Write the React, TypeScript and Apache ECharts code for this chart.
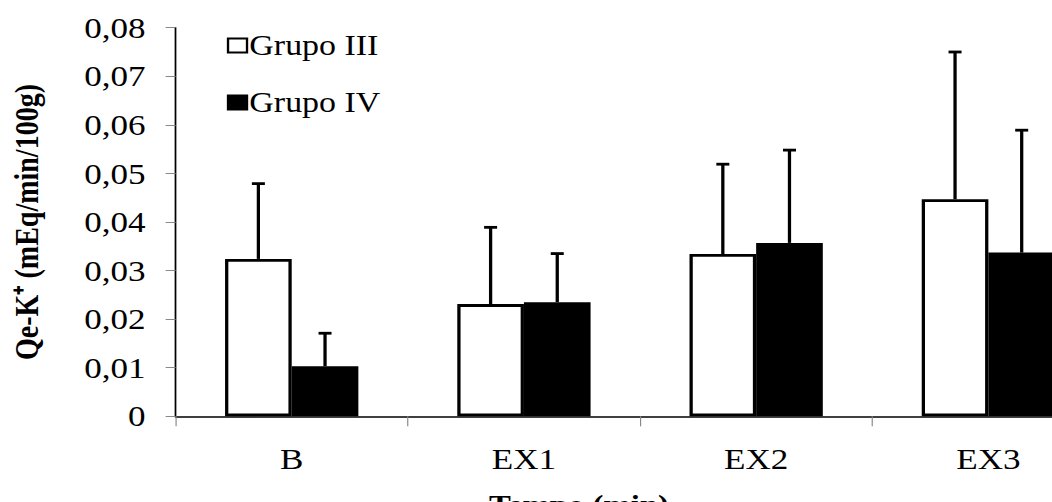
import React, { useEffect, useRef } from "react";
import * as echarts from "echarts";

const categories = ["B", "EX1", "EX2", "EX3"];
const grupoIII = [0.0324, 0.0231, 0.0334, 0.0447];
const grupoIV = [0.0103, 0.0235, 0.0357, 0.0337];
const grupoIIISD = [0.0155, 0.0158, 0.0185, 0.0303];
const grupoIVSD = [0.0068, 0.01, 0.0191, 0.0252];
const yTicks = { min: 0, max: 0.08, interval: 0.01 };

const FONT = "Liberation Serif";
const BAR_FRAC = 0.287;
// the reference image is stretched horizontally; reproduce it with a CSS scaleX
const SX = 1.17;
const px = (v: number) => v / SX;

function errorSeries(name: string, means: number[], sds: number[], side: number) {
  return {
    type: "custom",
    name: name + " SD",
    z: 5,
    silent: true,
    data: means.map((m, i) => [i, m, m + sds[i]]),
    renderItem: (params: any, api: any) => {
      const cat = api.value(0);
      const base = api.coord([cat, api.value(1)]);
      const top = api.coord([cat, api.value(2)]);
      const cw = api.size([1, 0])[0];
      const x = base[0] + (side * cw * BAR_FRAC) / 2;
      const style = { stroke: "#000", lineWidth: 2.8 };
      const hw = px(6.5);
      return {
        type: "group",
        children: [
          { type: "line", shape: { x1: x, y1: base[1], x2: x, y2: top[1] }, style },
          { type: "line", shape: { x1: x - hw, y1: top[1], x2: x + hw, y2: top[1] }, style },
        ],
      };
    },
  };
}

export default function App() {
  const ref = useRef<HTMLDivElement>(null);
  useEffect(() => {
    if (!ref.current) return;
    const chart = echarts.init(ref.current, null, { renderer: "svg" });
    chart.setOption({
      animation: false,
      backgroundColor: "#fff",
      textStyle: { fontFamily: FONT },
      grid: { left: px(175.6), right: 0, top: 27.7, bottom: 85.7, containLabel: false },
      legend: {
        orient: "vertical",
        left: px(221),
        top: 26,
        icon: "rect",
        itemWidth: px(19),
        itemHeight: 14,
        itemGap: 28,
        data: ["Grupo III", "Grupo IV"],
        textStyle: { fontFamily: FONT, fontSize: 29, color: "#000", padding: [0, 0, 0, -3] },
        itemStyle: { borderWidth: 2 },
      },
      xAxis: {
        type: "category",
        data: categories,
        axisLine: { lineStyle: { color: "#000", width: 1.5 } },
        axisTick: { show: true, length: 10, lineStyle: { color: "#888", width: 1 } },
        axisLabel: { color: "#000", fontFamily: FONT, fontSize: 30, margin: 28 },
        splitLine: { show: false },
      },
      yAxis: {
        type: "value",
        min: yTicks.min,
        max: yTicks.max,
        interval: yTicks.interval,
        name: "Qe-K⁺ (mEq/min/100g)",
        nameLocation: "middle",
        nameRotate: 90,
        nameGap: px(132),
        nameTextStyle: { fontFamily: FONT, fontSize: 28, fontWeight: "bold", color: "#000" },
        axisLine: { show: true, lineStyle: { color: "#000", width: 1.5 } },
        axisTick: { show: true, length: px(10), lineStyle: { color: "#888", width: 1 } },
        axisLabel: {
          color: "#000",
          fontFamily: FONT,
          fontSize: 30,
          margin: px(30),
          formatter: (v: number) => (v === 0 ? "0" : v.toFixed(2).replace(".", ",")),
        },
        splitLine: { show: false },
      },
      graphic: [
        {
          type: "text",
          left: px(489),
          top: 491,
          style: { text: "Tempo (min)", fontFamily: FONT, fontSize: 28, fontWeight: "bold", fill: "#000" },
        },
      ],
      series: [
        {
          type: "bar",
          name: "Grupo III",
          data: grupoIII,
          barWidth: BAR_FRAC * 100 + "%",
          barGap: "0%",
          itemStyle: { color: "#fff", borderColor: "#000", borderWidth: 2.8 },
        },
        {
          type: "bar",
          name: "Grupo IV",
          data: grupoIV,
          barWidth: BAR_FRAC * 100 + "%",
          barGap: "0%",
          itemStyle: { color: "#000", borderColor: "#000", borderWidth: 2.8 },
        },
        errorSeries("Grupo III", grupoIII, grupoIIISD, -1),
        errorSeries("Grupo IV", grupoIV, grupoIVSD, 1),
      ],
    });
    return () => chart.dispose();
  }, []);
  return (
    <div style={{ position: "absolute", left: 0, top: 0, width: 1052, height: 502, overflow: "hidden", background: "#fff" }}>
      <div
        ref={ref}
        style={{
          position: "absolute",
          left: 0,
          top: 0,
          width: px(1105),
          height: 502,
          transform: `scaleX(${SX})`,
          transformOrigin: "0 0",
        }}
      />
    </div>
  );
}
